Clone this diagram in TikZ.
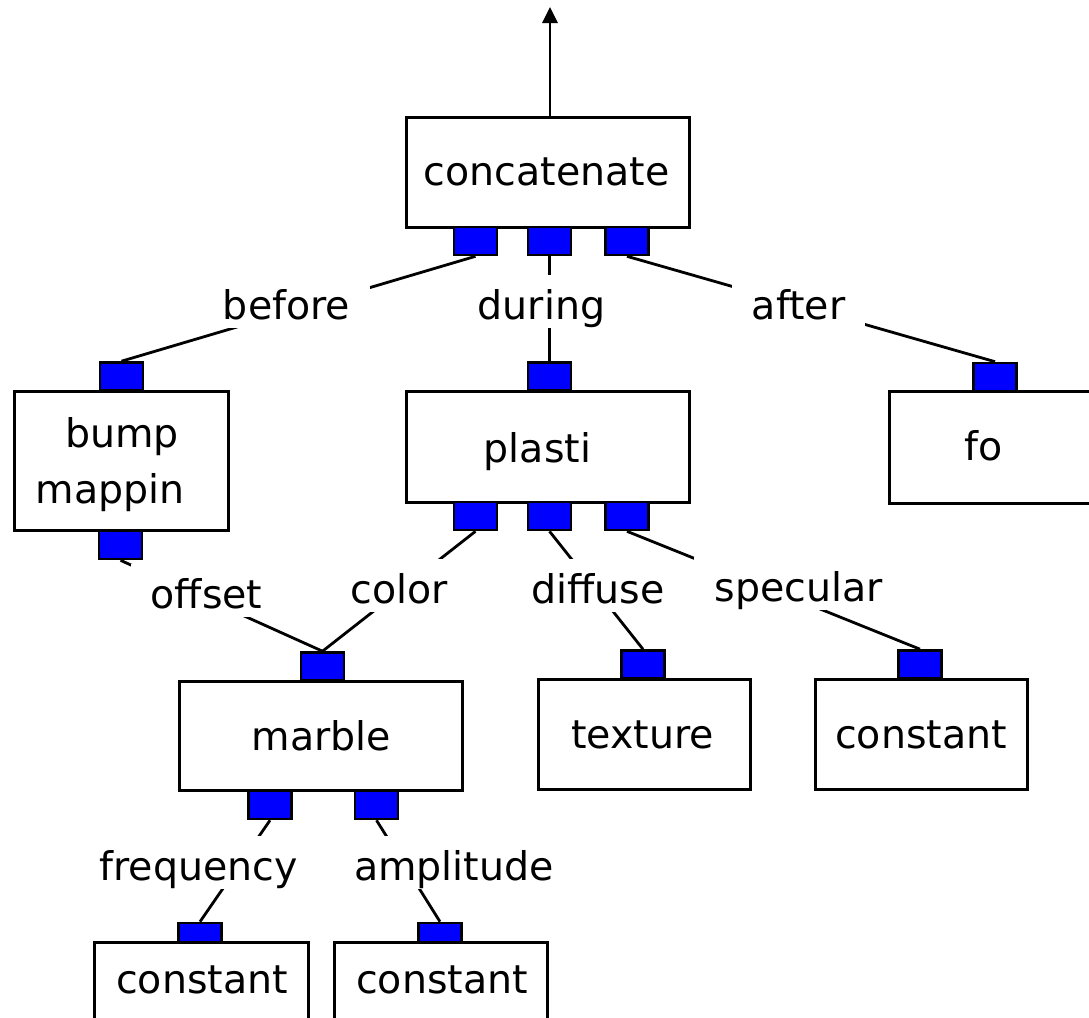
\documentclass[tikz,border=0pt]{standalone}
\usepackage{fontspec}
\setmainfont{DejaVu Sans}
\usetikzlibrary{arrows.meta}
\pgfdeclarelayer{bg}
\pgfsetlayers{bg,main}
\tikzset{
  every node/.style={font=\fontsize{39.5}{47}\selectfont},
  box/.style={draw, line width=3pt, fill=white, inner sep=0pt},
  port/.style={draw, line width=2.6pt, fill=blue, inner sep=0pt,
               minimum width=43pt, minimum height=28pt},
  smallport/.style={port, minimum height=19pt},
  word/.style={anchor=base, inner sep=0pt},
  lab/.style={anchor=base, fill=white, inner xsep=20pt, inner ysep=4pt,
              text height=40pt, text depth=5pt},
  wire/.style={line width=2.8pt}
}
\begin{document}
\begin{tikzpicture}[x=1pt, y=-1pt]
\useasboundingbox (0,0) rectangle (1089,1017);
\clip (0,0) rectangle (1089,1017);

% boxes
\node[box, minimum width=283pt, minimum height=110pt] (concat) at (547.5,172) {};
\node[box, minimum width=214pt, minimum height=139pt] (bump) at (121,460.5) {};
\node[box, minimum width=283pt, minimum height=111pt] (plasti) at (547.5,446.5) {};
\node[box, minimum width=212pt, minimum height=112pt] (fo) at (995,447) {};
\node[box, minimum width=283pt, minimum height=109pt] (marble) at (321,736) {};
\node[box, minimum width=212pt, minimum height=110pt] (texture) at (644,734) {};
\node[box, minimum width=212pt, minimum height=110pt] (constR) at (921,734) {};
\node[box, minimum width=214pt, minimum height=120pt] (constA) at (201,1002) {};
\node[box, minimum width=213pt, minimum height=120pt] (constB) at (440.5,1002) {};

% box texts
\node[word] (tconcat) at (546.5,185) {concatenate};
\node[word] (tbump) at (122,447) {bump};
\node[word] (tmappin) at (110,503) {mappin};
\node[word] (tplasti) at (537.5,462) {plasti};
\node[word] (tfo) at (984,460) {fo};
\node[word] (tmarble) at (321.5,750) {marble};
\node[word] (ttexture) at (642.5,748) {texture};
\node[word] (tconstR) at (921,748) {constant};
\node[word] (tconstA) at (202,993) {constant};
\node[word] (tconstB) at (442,993) {constant};

% ports
\node[port] (c1) at (475.5,241) {};
\node[port] (c2) at (549.5,241) {};
\node[port] (c3) at (627,241) {};
\node[port] (bumpIn) at (121.5,376.5) {};
\node[port] (bumpOut) at (120.5,545) {};
\node[port] (plIn) at (549.5,376.5) {};
\node[port] (p1) at (475.5,516) {};
\node[port] (p2) at (549.5,516) {};
\node[port] (p3) at (627,516) {};
\node[port] (foIn) at (995,377) {};
\node[port] (mIn) at (322.5,666.5) {};
\node[port] (m1) at (270,805) {};
\node[port] (m2) at (376.5,805) {};
\node[port] (txIn) at (643,664.5) {};
\node[port] (crIn) at (920,664.5) {};
\node[smallport] (caIn) at (200,932.5) {};
\node[smallport] (cbIn) at (440,932.5) {};

% output arrow
\coordinate (out) at (550,7);
\draw[wire, -{Triangle[length=16pt, width=15pt]}] (out |- concat.north) -- (out);

\begin{pgfonlayer}{bg}
  % connectors
  \draw[wire] (c1.south) -- (bumpIn.north);
  \draw[wire] (c2.south) -- (plIn.north);
  \draw[wire] (c3.south) -- (foIn.north);
  \draw[wire] (bumpOut.south) -- (mIn.north);
  \draw[wire] (p1.south) -- (mIn.north);
  \draw[wire] (p2.south) -- (txIn.north);
  \draw[wire] (p3.south) -- (crIn.north);
  \draw[wire] (m1.south) -- (caIn.north);
  \draw[wire] (m2.south) -- (cbIn.north);
  % connector labels
  \node[lab] (lbefore) at (286.5,319) {before};
  \node[lab] (lduring) at (541.5,319) {during};
  \node[lab] (lafter) at (798.5,319) {after};
  \node[lab] (loffset) at (206.5,608) {offset};
  \node[lab] (lcolor) at (399,603) {color};
  \node[lab] (ldiffuse) at (598,603) {diffuse};
  \node[lab] (lspecular) at (798.5,601) {specular};
  \node[lab] (lfreq) at (198.5,880) {frequency};
  \node[lab] (lampl) at (454,880) {amplitude};
\end{pgfonlayer}
\end{tikzpicture}
\end{document}
